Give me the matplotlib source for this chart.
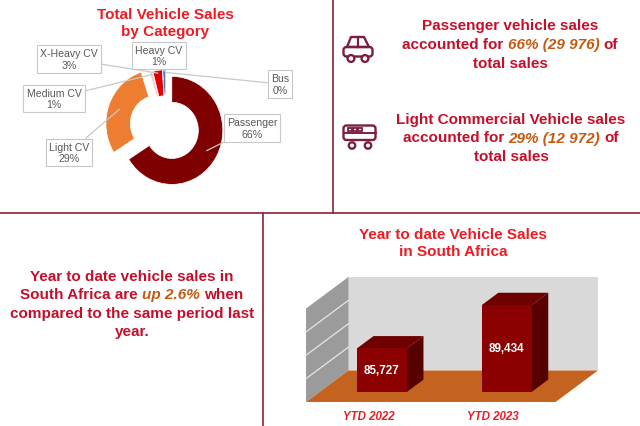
import matplotlib
matplotlib.use('Agg')
import matplotlib.pyplot as plt
from matplotlib.patches import Polygon, Circle, FancyBboxPatch, Rectangle
from matplotlib.lines import Line2D
import numpy as np

# ---------------- data ----------------
pie_categories = ['Passenger', 'Light CV', 'Medium CV', 'X-Heavy CV', 'Heavy CV', 'Bus']
pie_values = [66, 29, 1, 3, 1, 0]
pie_colors = ['#7f0000', '#ed7d31', '#ffc9c9', '#e00000', '#4472c4', '#a5a5a5']

passenger_share = 66
passenger_units = 29976
lcv_share = 29
lcv_units = 12972
ytd_growth = 2.6

ytd_labels = ['YTD 2022', 'YTD 2023']
ytd_values = [85727, 89434]
ytd_axis_min = 82000
ytd_axis_max = 90000
ytd_grid_step = 2000

# ---------------- style ----------------
W, H = 640, 427
FONT = 'Liberation Sans'
TITLE_RED = '#ec1c24'
MAIN = '#c50f2a'
ORANGE = '#c55a11'
LINE = '#8e2233'
ICON = '#7a1f3d'

fig = plt.figure(figsize=(W / 100, H / 100), dpi=100)
fig.patch.set_facecolor('white')


def fx(px):
    return px / W


def fy(py):
    return 1 - py / H


# ---------------- overlay (dividers, icons) ----------------
ov = fig.add_axes([0, 0, 1, 1])
ov.set_xlim(0, W)
ov.set_ylim(H, 0)
ov.axis('off')
ov.add_line(Line2D([333, 333], [0, 213.5], color=LINE, lw=1.2))
ov.add_line(Line2D([0, W], [213.5, 213.5], color=LINE, lw=1.2))
ov.add_line(Line2D([263, 263], [213.5, H], color=LINE, lw=1.2))

# car icon
ov.add_patch(Polygon([[351, 38], [364, 38], [369, 48], [347, 48]], closed=True,
                     fill=False, ec=ICON, lw=1.7, joinstyle='round'))
ov.add_line(Line2D([358, 358], [38, 48], color=ICON, lw=1.6))
ov.add_patch(FancyBboxPatch((343.5, 48), 29, 9.5, boxstyle='round,pad=0,rounding_size=3',
                            fill=False, ec=ICON, lw=1.7))
for cxw in (351, 365):
    ov.add_patch(Circle((cxw, 59.5), 3.4, fc='white', ec=ICON, lw=1.7))

# bus icon
ov.add_patch(FancyBboxPatch((343.5, 126.5), 32, 14.5, boxstyle='round,pad=0,rounding_size=3',
                            fill=False, ec=ICON, lw=1.7))
for wx in (347.5, 352.5, 357.5):
    ov.add_patch(Rectangle((wx, 128.5), 4, 3.5, fill=False, ec=ICON, lw=1.3))
ov.add_line(Line2D([343.5, 375.5], [134, 134], color=ICON, lw=1.4))
for cxw in (352, 368):
    ov.add_patch(Circle((cxw, 146.5), 3.2, fc='white', ec=ICON, lw=1.7))

# ---------------- rich text helper ----------------
renderer = fig.canvas.get_renderer()


def measure(s, size, style):
    t = fig.text(0, 0, s, fontsize=size, fontweight='bold', fontstyle=style, family=FONT)
    w = t.get_window_extent(renderer).width
    t.remove()
    return w


def rich_line(cx, cy, parts, size=11):
    sp = measure('x x', size, 'normal') - measure('xx', size, 'normal')
    items = []
    for s, hl in parts:
        lead = len(s) - len(s.lstrip(' '))
        trail = len(s) - len(s.rstrip(' '))
        core = s.strip(' ')
        t = fig.text(0, 0, core, fontsize=size, fontweight='bold',
                     fontstyle='italic' if hl else 'normal',
                     color=ORANGE if hl else MAIN, family=FONT, ha='left', va='center')
        w = t.get_window_extent(renderer).width
        items.append((t, lead * sp, w, trail * sp))
    total = sum(a + b + c for _, a, b, c in items)
    x = cx - total / 2
    for t, a, w, c in items:
        x += a
        t.set_position((fx(x), fy(cy)))
        x += w + c


def fmt_space(v):
    return f'{v:,}'.replace(',', ' ')


# top-right statements
rich_line(510, 26, [('Passenger vehicle sales', False)])
rich_line(510, 45, [('accounted for ', False),
                    (f'{passenger_share}% ({fmt_space(passenger_units)})', True),
                    (' of', False)])
rich_line(510, 64, [('total sales', False)])

rich_line(511, 120, [('Light Commercial Vehicle sales', False)])
rich_line(511, 138.5, [('accounted for ', False),
                       (f'{lcv_share}% ({fmt_space(lcv_units)})', True),
                       (' of', False)])
rich_line(511, 157, [('total sales', False)])

# bottom-left statement
rich_line(132, 277, [('Year to date vehicle sales in', False)])
rich_line(132, 295.5, [('South Africa are ', False), (f'up {ytd_growth}%', True), (' when', False)])
rich_line(132, 314, [('compared to the same period last', False)])
rich_line(132, 332.5, [('year.', False)])

# ---------------- donut chart ----------------
fig.text(fx(165), fy(23.5), 'Total Vehicle Sales\nby Category', ha='center', va='center',
         fontsize=11, fontweight='bold', color=TITLE_RED, family=FONT, linespacing=1.2)

ax_pie = fig.add_axes([0, fy(213), fx(333), 173 / H])
explode = [0.13, 0.19, 0.06, 0.06, 0.08, 0.06]
wedges, _ = ax_pie.pie(pie_values, colors=pie_colors, startangle=90, counterclock=False,
                       explode=explode,
                       wedgeprops=dict(width=0.48, edgecolor='white', linewidth=0.5))
ax_pie.set_aspect('auto')
PCX, PCY, RX, RY = 166, 128, 51, 54
ax_pie.set_xlim(-PCX / RX, (333 - PCX) / RX)
ax_pie.set_ylim(-(213 - PCY) / RY, (PCY - 40) / RY)
ax_pie.axis('off')

label_px = {
    'Passenger': (252, 129),
    'Light CV': (69, 153.5),
    'Medium CV': (54, 99.5),
    'X-Heavy CV': (69, 60),
    'Heavy CV': (159, 56.5),
    'Bus': (280, 85),
}
for w, name, v in zip(wedges, pie_categories, pie_values):
    ang = np.deg2rad((w.theta1 + w.theta2) / 2)
    cx0, cy0 = w.center
    rr = 0.78 if v > 5 else 0.95
    anchor = (cx0 + rr * np.cos(ang), cy0 + rr * np.sin(ang))
    px, py = label_px[name]
    pos = ((px - PCX) / RX, (PCY - py) / RY)
    ax_pie.annotate(f'{name}\n{v}%', xy=anchor, xytext=pos, ha='center', va='center',
                    fontsize=7.6, color='#595959', family=FONT, linespacing=1.15,
                    bbox=dict(boxstyle='square,pad=0.3', fc='white', ec='#c8c8c8', lw=0.8),
                    arrowprops=dict(arrowstyle='-', color='#c8c8c8', lw=0.9,
                                    shrinkA=0, shrinkB=0),
                    annotation_clip=False)

# ---------------- 3D-style bar chart ----------------
fig.text(fx(453), fy(243.5), 'Year to date Vehicle Sales\nin South Africa', ha='center',
         va='center', fontsize=11, fontweight='bold', color=TITLE_RED, family=FONT,
         linespacing=1.2)

ax_bar = fig.add_axes([fx(306), fy(403), 292 / W, 125 / H])
DX, DY = 0.34, 2700
ncat = len(ytd_values)
ax_bar.set_xlim(0, ncat + DX)
ax_bar.set_ylim(ytd_axis_min, ytd_axis_max + DY)
ax_bar.axis('off')

y0, y1 = ytd_axis_min, ytd_axis_max
# back wall
ax_bar.add_patch(Polygon([[DX, y0 + DY], [ncat + DX, y0 + DY], [ncat + DX, y1 + DY], [DX, y1 + DY]],
                         closed=True, fc='#d9d9d9', ec='none'))
# side wall
ax_bar.add_patch(Polygon([[0, y0], [DX, y0 + DY], [DX, y1 + DY], [0, y1]],
                         closed=True, fc='#9b9b9b', ec='none'))
for g in np.arange(y0 + ytd_grid_step, y1, ytd_grid_step):
    ax_bar.plot([0, DX], [g, g + DY], color='#e6e6e6', lw=0.9)
# floor
ax_bar.add_patch(Polygon([[0, y0], [ncat, y0], [ncat + DX, y0 + DY], [DX, y0 + DY]],
                         closed=True, fc='#c3631f', ec='none'))

f1, f2 = 0.32, 0.71
bw = 0.4
for i, (lbl, v) in enumerate(zip(ytd_labels, ytd_values)):
    c = i + 0.5
    xa, xb = c - bw / 2, c + bw / 2
    ox1, oy1 = f1 * DX, f1 * DY
    ox2, oy2 = f2 * DX, f2 * DY
    # side
    ax_bar.add_patch(Polygon([[xb + ox1, y0 + oy1], [xb + ox2, y0 + oy2],
                              [xb + ox2, v + oy2], [xb + ox1, v + oy1]],
                             closed=True, fc='#560000', ec='none'))
    # top
    ax_bar.add_patch(Polygon([[xa + ox1, v + oy1], [xb + ox1, v + oy1],
                              [xb + ox2, v + oy2], [xa + ox2, v + oy2]],
                             closed=True, fc='#6e0000', ec='none'))
    # front
    ax_bar.add_patch(Polygon([[xa + ox1, y0 + oy1], [xb + ox1, y0 + oy1],
                              [xb + ox1, v + oy1], [xa + ox1, v + oy1]],
                             closed=True, fc='#8b0000', ec='none'))
    ax_bar.text(c + ox1, (y0 + v) / 2 + oy1, f'{v:,}', ha='center', va='center',
                fontsize=8.4, fontweight='bold', color='white', family=FONT)
    ax_bar.annotate(lbl, xy=(c, 0), xycoords=('data', 'axes fraction'), xytext=(0, -14),
                    textcoords='offset pixels', ha='center', va='center', fontsize=8.3,
                    fontweight='bold', fontstyle='italic', color=TITLE_RED, family=FONT,
                    annotation_clip=False)

fig.savefig('out.png', dpi=100)
